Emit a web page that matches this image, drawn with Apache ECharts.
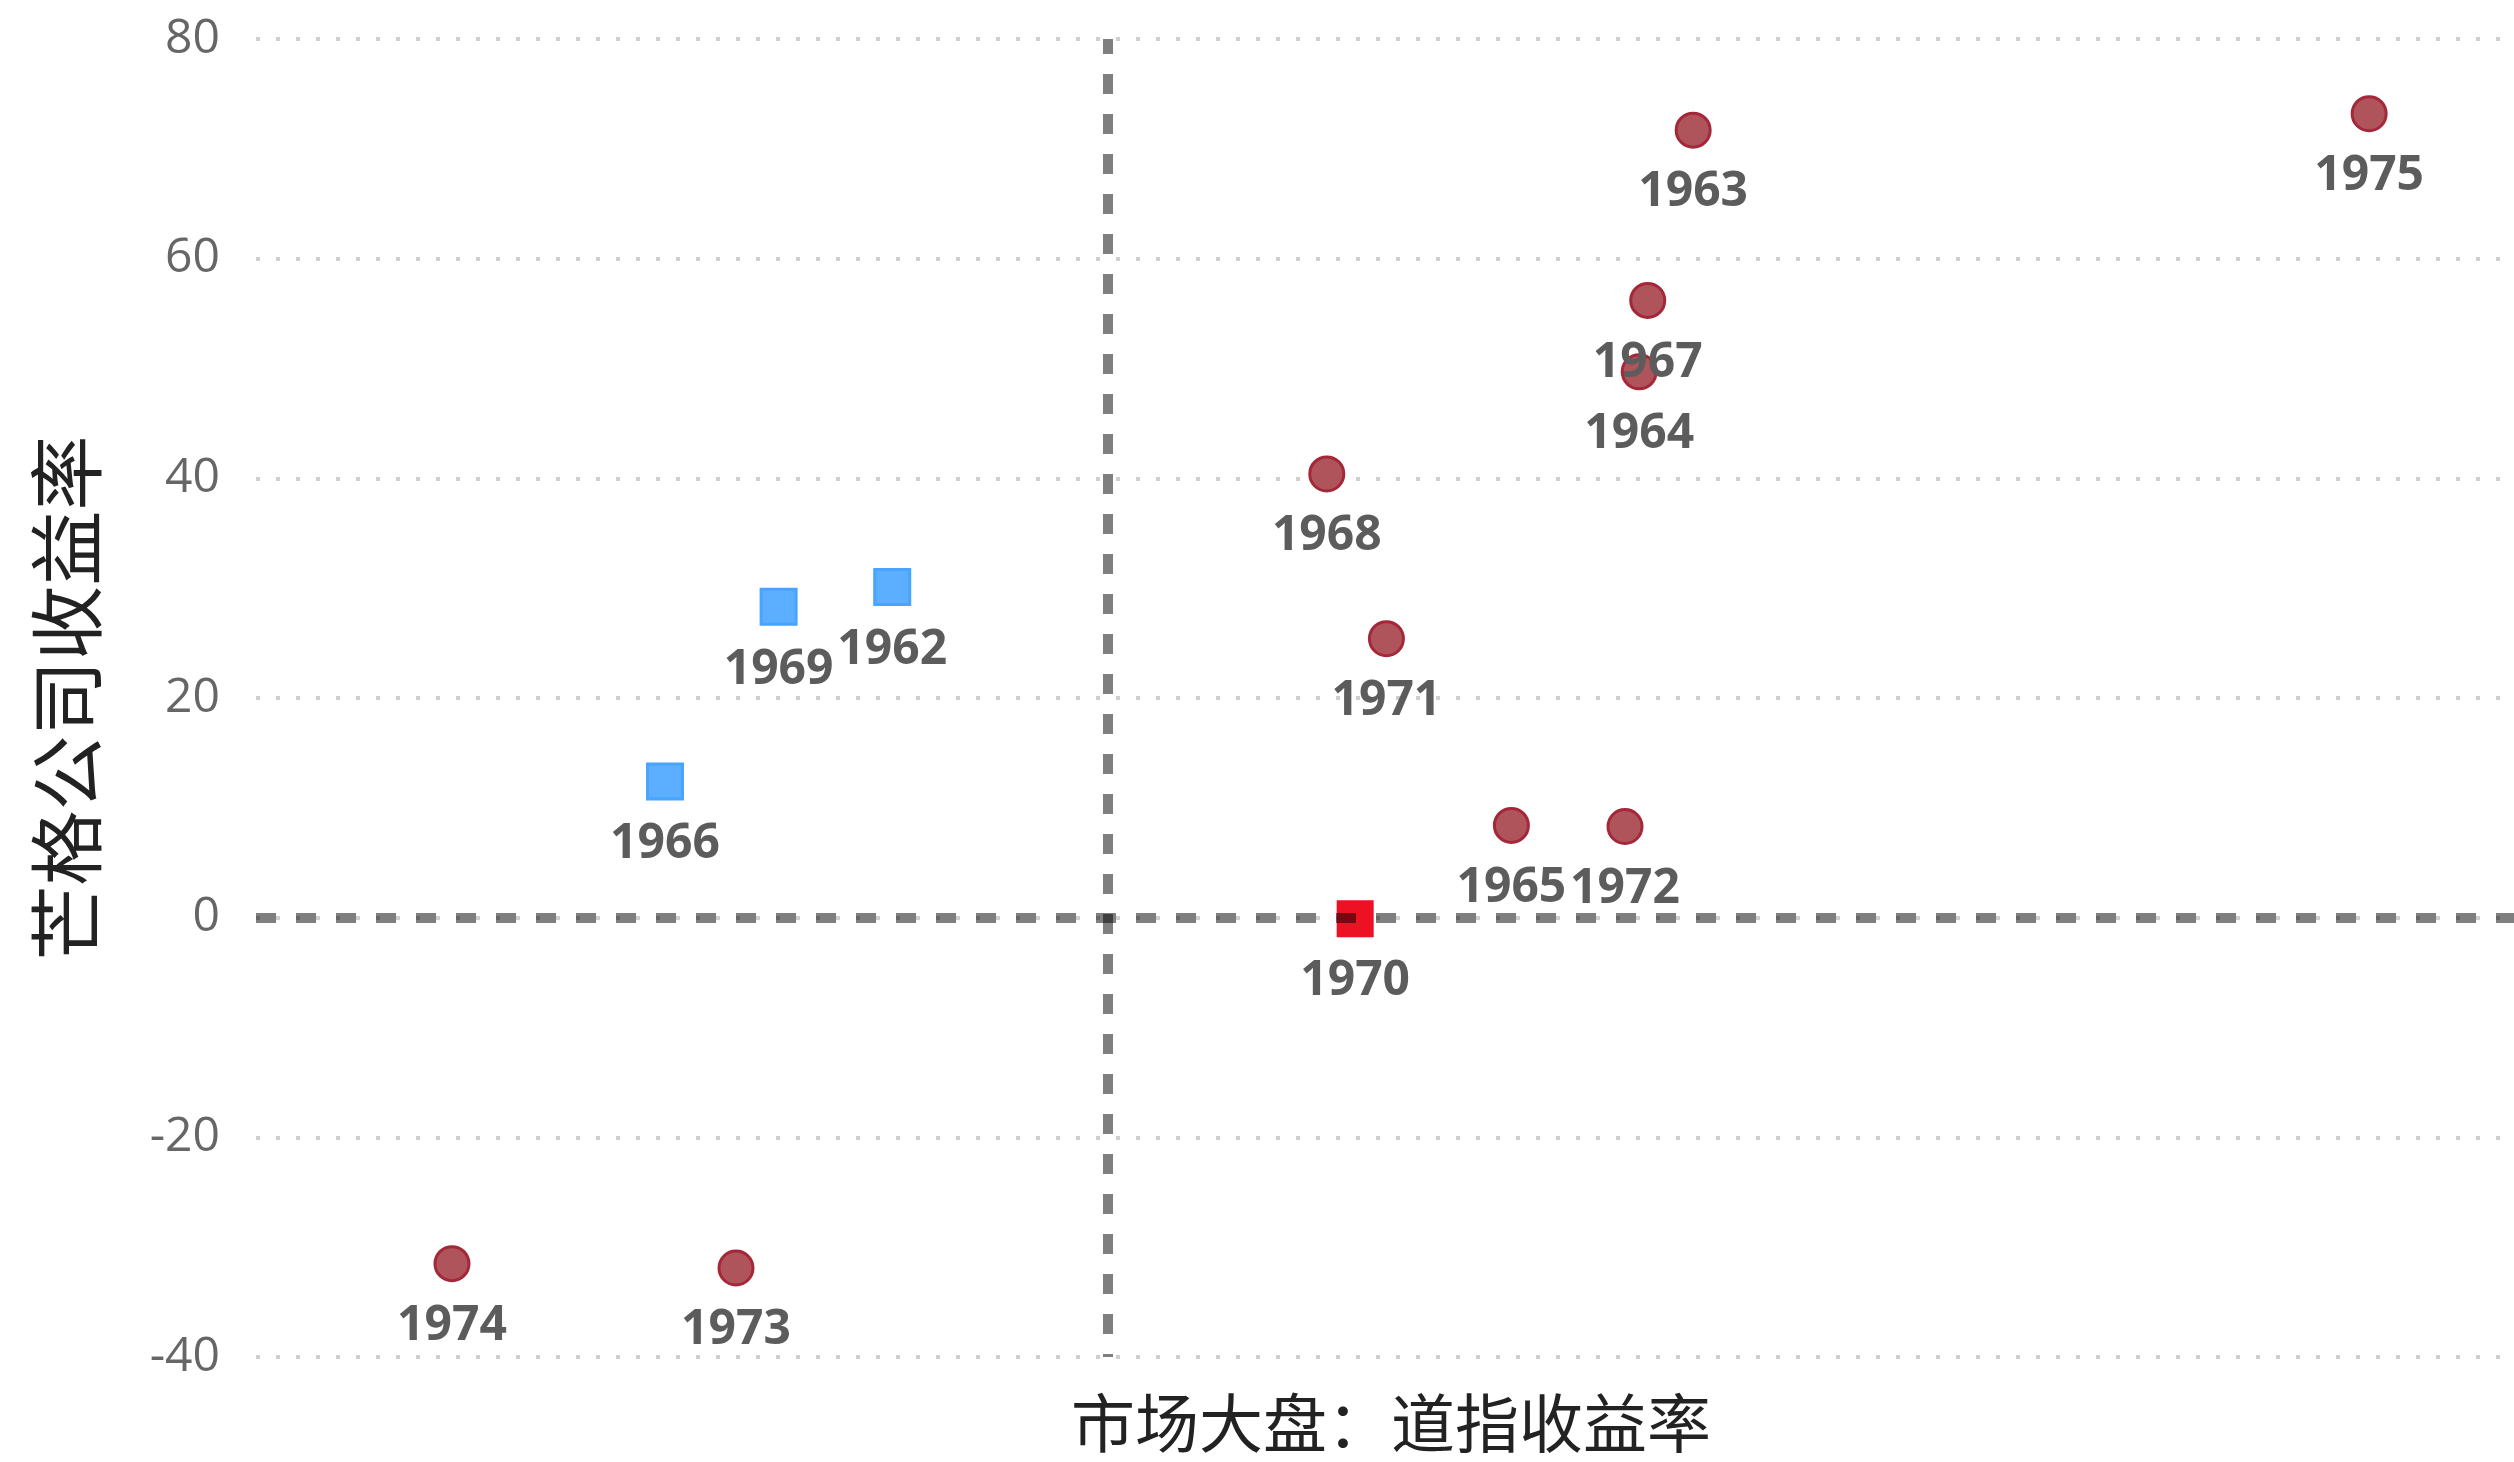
<!DOCTYPE html>
<html>
<head>
<meta charset="utf-8">
<script src="https://cdn.jsdelivr.net/npm/echarts@6/dist/echarts.min.js"></script>
<style>
html,body{margin:0;padding:0;background:#fff;}
#chart{width:2514px;height:1462px;}
</style>
</head>
<body>
<div id="chart"></div>
<script>
// Years, market (Dow) returns and Munger partnership returns (%)
const years = ['1962','1963','1964','1965','1966','1967','1968','1969','1970','1971','1972','1973','1974','1975'];
const dowReturns = [-7.6, 20.6, 18.7, 14.2, -15.6, 19.0, 7.7, -11.6, 8.7, 9.8, 18.2, -13.1, -23.1, 44.4];
const mungerReturns = [30.1, 71.7, 49.7, 8.4, 12.4, 56.2, 40.4, 28.3, -0.1, 25.4, 8.3, -31.9, -31.5, 73.2];
const yTicks = [-40, -20, 0, 20, 40, 60, 80];
const xRange = [-30, 49.5];
const xAxisName = '市场大盘：道指收益率';
const yAxisName = '芒格公司收益率';

const sameSign = [], marketDownUp = [], marketUpDown = [];
years.forEach((y, i) => {
  const item = { name: y, value: [dowReturns[i], mungerReturns[i]] };
  const dx = dowReturns[i], my = mungerReturns[i];
  if (dx < 0 && my >= 0) marketDownUp.push(item);
  else if (dx >= 0 && my < 0) marketUpDown.push(item);
  else sameSign.push(item);
});

const labelCfg = {
  show: true,
  position: 'bottom',
  distance: 20,
  formatter: '{b}',
  fontFamily: 'Open Sans',
  fontWeight: 'bold',
  fontSize: 48,
  color: '#5c5c5c'
};

const yMin = yTicks[0], yMax = yTicks[yTicks.length - 1];
const zeroLineStyle = { color: 'rgba(0,0,0,0.5)', width: 10, type: [20, 20] };

const chart = echarts.init(document.getElementById('chart'));
chart.setOption({
  animation: false,
  backgroundColor: '#ffffff',
  grid: { left: 256, right: 0, top: 39, bottom: 105, containLabel: false },
  xAxis: {
    type: 'value',
    min: xRange[0],
    max: xRange[1],
    name: xAxisName,
    nameLocation: 'middle',
    nameGap: 34,
    nameTextStyle: { fontFamily: 'Noto Sans CJK SC', fontSize: 64, color: '#222', padding: [0, 0, 0, 12] },
    axisLine: { show: false },
    axisTick: { show: false },
    axisLabel: { show: false },
    splitLine: { show: false }
  },
  yAxis: {
    type: 'value',
    min: yMin,
    max: yMax,
    interval: yTicks[1] - yTicks[0],
    name: yAxisName,
    nameLocation: 'middle',
    nameGap: 152,
    nameTextStyle: { fontFamily: 'Noto Sans CJK SC', fontSize: 75, color: '#222' },
    axisLine: { show: false },
    axisTick: { show: false },
    axisLabel: { fontFamily: 'Open Sans', fontSize: 48, color: '#666', margin: 36 },
    splitLine: { show: true, lineStyle: { color: '#cfcfcf', width: 4, type: [4, 16] } }
  },
  series: [
    {
      type: 'scatter',
      data: sameSign,
      symbol: 'circle',
      symbolSize: 34,
      itemStyle: { color: '#b0545c', borderColor: '#a4283a', borderWidth: 3, opacity: 1 },
      label: labelCfg,
      markLine: {
        silent: true,
        symbol: 'none',
        label: { show: false },
        lineStyle: zeroLineStyle,
        data: [
          [{ coord: [0, yMax], lineStyle: { dashOffset: 5 } }, { coord: [0, yMin] }],
          [{ coord: [xRange[0], 0] }, { coord: [xRange[1], 0] }]
        ]
      }
    },
    {
      type: 'scatter',
      data: marketDownUp,
      symbol: 'rect',
      symbolSize: 35,
      itemStyle: { color: '#5caeff', borderColor: '#48a4ff', borderWidth: 3, opacity: 1 },
      label: labelCfg
    },
    {
      type: 'scatter',
      data: marketUpDown,
      symbol: 'rect',
      symbolSize: 37,
      itemStyle: { color: '#ee1124', opacity: 1 },
      label: labelCfg
    }
  ]
});
</script>
</body>
</html>
